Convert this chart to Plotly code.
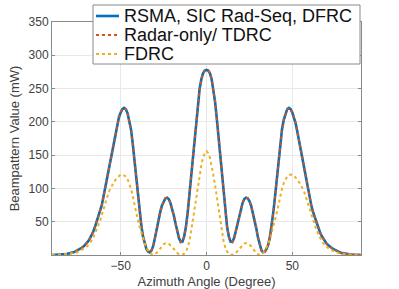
import plotly.graph_objects as go

angles = list(range(-90, 91))

rsma_left = [0.1, 0.15, 0.2, 0.3, 0.4, 0.55, 0.75, 1.0, 1.3, 1.7,
             2.2, 2.8, 3.6, 4.6, 5.8, 7.2, 8.8, 10.5, 12, 14.5,
             17, 20.5, 24.5, 29, 35, 42, 50, 57, 65, 75,
             88, 101, 115, 128, 141, 155, 170, 184, 197, 207,
             214, 219, 221, 219, 213, 203, 189, 168, 142, 115,
             90, 66, 45, 28, 16, 9, 5, 4, 7, 14,
             26, 40, 53, 64, 74, 81, 85, 86, 84, 78,
             70, 59, 47, 35, 25, 19.5, 20, 28, 42, 63,
             90, 118, 148, 178, 205, 230, 250, 264, 273, 277,
             278]
rsma_right = [277, 273, 264, 250, 230, 205, 178, 148, 118,
              90, 63, 42, 28, 20, 19.5, 25, 35, 47, 59,
              70, 78, 84, 86, 85, 81, 74, 64, 53, 40,
              26, 14, 7, 4, 5, 9, 16, 28, 45, 66,
              90, 115, 142, 168, 189, 203, 213, 219, 221, 219,
              214, 207, 197, 184, 170, 155, 141, 128, 115, 101,
              88, 75, 65, 57, 50, 42, 35, 29, 24.5, 20.5,
              17, 14.5, 12, 10.5, 8.8, 7.2, 5.8, 4.6, 3.6, 2.8,
              2.2, 1.7, 1.3, 1.0, 0.75, 0.55, 0.4, 0.3, 0.2, 0.15,
              0.1]
rsma = rsma_left + rsma_right

radar = list(rsma)

fdrc_left = [0.1, 0.12, 0.15, 0.2, 0.3, 0.4, 0.5, 0.7, 0.9, 1.2,
             1.5, 1.9, 2.4, 3.0, 3.7, 4.6, 5.6, 6.9, 8.3, 10,
             12, 14.5, 17.5, 21.5, 26, 32, 38, 44, 51, 60,
             69, 78, 86, 94, 100, 105, 109, 113, 116, 119,
             120.5, 121, 120, 118, 114, 108, 100, 89, 76, 64,
             53, 43, 33, 24, 17, 11, 6.5, 3, 1, 0.3,
             1, 3, 6, 9.5, 13, 16, 17.5, 18, 17, 15,
             12, 9, 5.5, 3, 1, 0.2, 0.5, 2, 5, 11,
             20, 35, 52, 69, 88, 105, 120, 135, 146, 153,
             156]
fdrc_right = [153, 146, 135, 120, 105, 88, 69, 52, 35,
              20, 11, 5, 2, 0.5, 0.2, 1, 3, 5.5, 9,
              12, 15, 17, 18, 17.5, 16, 13, 9.5, 6, 3,
              1, 0.3, 1, 3, 6.5, 11, 17, 24, 33, 43,
              53, 64, 76, 89, 100, 108, 114, 118, 120, 121,
              120.5, 119, 116, 113, 109, 105, 100, 94, 86, 78,
              69, 60, 51, 44, 38, 32, 26, 21.5, 17.5, 14.5,
              12, 10, 8.3, 6.9, 5.6, 4.6, 3.7, 3.0, 2.4, 1.9,
              1.5, 1.2, 0.9, 0.7, 0.5, 0.4, 0.3, 0.2, 0.15, 0.12,
              0.1]
fdrc = fdrc_left + fdrc_right

names = ["RSMA, SIC Rad-Seq, DFRC", "Radar-only/ TDRC", "FDRC"]
colors = ["#0072BD", "#D95319", "#EDB120"]
dashes = ["solid", "dot", "dot"]
widths = [2.6, 2, 2]
x_ticks = [-50, 0, 50]
y_ticks = [50, 100, 150, 200, 250, 300, 350]

FONT = "Liberation Sans, Arial, sans-serif"

fig = go.Figure()
for yv, nm, c, d, w in zip([rsma, radar, fdrc], names, colors, dashes, widths):
    fig.add_trace(go.Scatter(x=angles, y=yv, mode="lines", name=nm,
                             line=dict(color=c, width=w, dash=d),
                             showlegend=False))

axis_common = dict(
    showline=True, linecolor="#8a8a8a", linewidth=1, mirror="ticks",
    ticks="inside", ticklen=3, tickcolor="#8a8a8a",
    showgrid=True, gridcolor="#e8e8e8", gridwidth=1,
    zeroline=False, automargin=False,
    tickfont=dict(family=FONT, size=12, color="#404040"),
)

fig.update_xaxes(range=[-90, 90], tickvals=x_ticks,
                 title=dict(text="Azimuth Angle (Degree)", standoff=4,
                            font=dict(family=FONT, size=13, color="#404040")),
                 **axis_common)
fig.update_yaxes(range=[0, 350], tickvals=y_ticks,
                 title=dict(text="Beampattern Value (mW)", standoff=6,
                            font=dict(family=FONT, size=13, color="#404040")),
                 **axis_common)

# custom legend (MATLAB-like compact rows)
x0, x1 = 0.1327, 0.9968
y_top, y_bot = 1.073, 0.8197
row_y = [1.0258, 0.9442, 0.8627]
fig.add_shape(type="rect", xref="paper", yref="paper", x0=x0, x1=x1, y0=y_bot, y1=y_top,
              line=dict(color="#8a8a8a", width=1), fillcolor="white", layer="above")
for ry, nm, c, d, w in zip(row_y, names, colors, dashes, widths):
    fig.add_shape(type="line", xref="paper", yref="paper", x0=0.1424, x1=0.2168, y0=ry, y1=ry,
                  line=dict(color=c, width=w, dash=d), layer="above")
    fig.add_annotation(xref="paper", yref="paper", x=0.2265, y=ry, text=nm,
                       showarrow=False, xanchor="left", yanchor="middle",
                       font=dict(family=FONT, size=18, color="#111"))

fig.update_layout(
    width=399, height=289,
    margin=dict(l=52, r=38, t=22, b=34),
    paper_bgcolor="white", plot_bgcolor="white",
    showlegend=False,
)

fig.write_html("out.html",
               config={"displayModeBar": False},
               post_script="document.body.style.margin='0';document.body.style.padding='0';")
